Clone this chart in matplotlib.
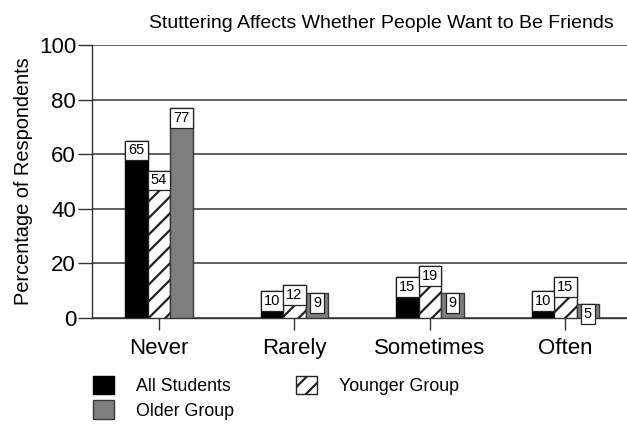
import matplotlib
matplotlib.use("Agg")
import matplotlib.pyplot as plt
import numpy as np

plt.rcParams['font.family'] = ['Liberation Sans', 'DejaVu Sans']
plt.rcParams['hatch.linewidth'] = 1.6

categories = ['Never', 'Rarely', 'Sometimes', 'Often']
all_students = [65, 10, 15, 10]
younger_group = [54, 12, 19, 15]
older_group = [77, 9, 9, 5]
y_ticks = [0, 20, 40, 60, 80, 100]

title = 'Stuttering Affects Whether People Want to Be Friends'
y_label = 'Percentage of Respondents'

fig = plt.figure(figsize=(6.27, 4.26), dpi=100)
ax = fig.add_axes([92 / 627, 1 - 318 / 426, 1 - 92 / 627, 273 / 426])

x = np.arange(len(categories))
w = 0.166
edge = '#222222'

series = [
    (all_students, -w, dict(facecolor='black', edgecolor='black', label='All Students')),
    (younger_group, 0.0, dict(facecolor='white', edgecolor=edge, hatch='//', label='Younger Group')),
    (older_group, w, dict(facecolor='#7e7e7e', edgecolor='#3a3a3a', label='Older Group')),
]

handles = {}
fs_val = 10.5
pad = 0.2
for values, off, style in series:
    bars = ax.bar(x + off, values, width=w, linewidth=1.0, zorder=3, **style)
    handles[style['label']] = bars
    for xi, v in zip(x + off, values):
        ax.annotate(str(v), xy=(xi, v), xytext=(0, -pad * fs_val),
                    textcoords='offset points', ha='center', va='top',
                    fontsize=fs_val, zorder=5, annotation_clip=False,
                    bbox=dict(boxstyle=f'square,pad={pad}', facecolor='white',
                              edgecolor=edge, linewidth=0.9))

ax.set_xlim(-0.4945, 3.454)
ax.set_ylim(0, 100)
ax.set_yticks(y_ticks)
ax.set_xticks(x)
ax.set_xticklabels(categories)
ax.yaxis.grid(True, color='#444444', linewidth=1.2, zorder=0)
ax.set_axisbelow(True)

for side in ('top', 'right'):
    ax.spines[side].set_visible(False)
for side in ('left', 'bottom'):
    ax.spines[side].set_color('#333333')
    ax.spines[side].set_linewidth(1.0)

ax.tick_params(axis='y', direction='out', length=10, width=1.0, color='#333333',
               labelsize=16, pad=1.5)
ax.tick_params(axis='x', direction='out', length=8.6, width=1.0, color='#333333',
               labelsize=16, pad=6)

ax.set_ylabel(y_label, fontsize=14.4, labelpad=4)
ax.set_title(title, fontsize=14, pad=12, loc='center', x=0.540)

order = ['All Students', 'Older Group', 'Younger Group']
fig.legend([handles[k] for k in order], order, loc='upper left',
           bbox_to_anchor=(93 / 627, 1 - 376 / 426), ncol=2, frameon=False,
           fontsize=12.8, handlelength=1.2, handleheight=1.2,
           handletextpad=1.2, columnspacing=3.5, labelspacing=0.3,
           borderpad=0, borderaxespad=0)

fig.savefig('out.png', dpi=100)
